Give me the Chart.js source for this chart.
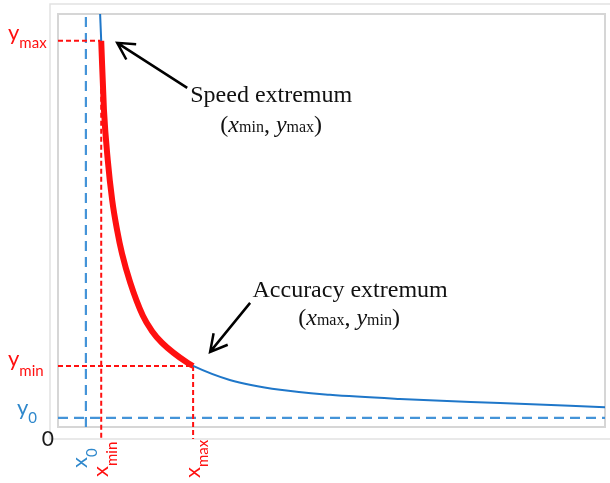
<!DOCTYPE html>
<html>
<head>
<meta charset="utf-8">
<script src="https://cdn.jsdelivr.net/npm/chart.js@4.4.1/dist/chart.umd.min.js"></script>
<style>
  html, body { margin: 0; padding: 0; background: #fff; }
  canvas { display: block; }
</style>
</head>
<body>
<canvas id="curveChart" width="610" height="483"></canvas>
<script>
// curve points (axis units 0..10 on both axes)
const curveX = [0.77, 0.79, 0.84, 0.91, 0.99, 1.08, 1.17, 1.32, 1.55, 1.72, 1.90, 2.36, 2.47, 3.14, 4.06, 4.97, 6.25, 8.08, 10.0];
const curveY = [10.0, 9.35, 7.68, 6.46, 5.50, 4.77, 4.20, 3.50, 2.70, 2.32, 2.04, 1.56, 1.48, 1.14, 0.90, 0.78, 0.68, 0.58, 0.48];
// red part of the curve goes from xmin to xmax
const redFrom = 1;
const redTo = 12;

const x0 = 0.51, y0 = 0.22;
const xMin = 0.79, yMax = 9.35;
const xMax = 2.47, yMin = 1.48;
const axisMin = 0, axisMax = 10;
const belowAxis = -0.29;

const yMarkText = [["y", "max"], ["y", "min"], ["y", "0"]];
const yMarkValues = [yMax, yMin, y0];
const xMarkText = [["x", "0"], ["x", "min"], ["x", "max"]];
const xMarkValues = [x0, xMin, xMax];
const originText = "0";

const noteSpeed = ["Speed extremum", "x", "min", "y", "max"];
const noteAccuracy = ["Accuracy extremum", "x", "max", "y", "min"];

const RED = "#ff1010";
const BLUE = "#1f77c9";
const BLUE_DASH = "#4494d8";
const BLUE_TEXT = "#2f88cc";

const pts = (xs, ys) => xs.map((x, i) => ({ x, y: ys[i] }));
const curve = pts(curveX, curveY);
const redCurve = curve.slice(redFrom, redTo + 1);

function seg(xa, ya, xb, yb) {
  return [{ x: xa, y: ya }, { x: xb, y: yb }];
}

function dashSet(data, color, dash, width) {
  return {
    data, borderColor: color, borderWidth: width, borderDash: dash,
    showLine: true, pointRadius: 0, fill: false, clip: false, order: 3
  };
}

// draws a list of [text, font, dy] pieces after each other
function drawPieces(ctx, pieces, x, y, align) {
  let total = 0;
  pieces.forEach(p => { ctx.font = p[1]; total += ctx.measureText(p[0]).width; });
  let cx = align === "center" ? x - total / 2 : (align === "right" ? x - total : x);
  ctx.textAlign = "left";
  ctx.textBaseline = "alphabetic";
  pieces.forEach(p => {
    ctx.font = p[1];
    ctx.fillText(p[0], cx, y + (p[2] || 0));
    cx += ctx.measureText(p[0]).width;
  });
}

function arrow(ctx, fx, fy, tx, ty) {
  const ang = Math.atan2(ty - fy, tx - fx);
  const len = 19, spread = 0.5;
  ctx.beginPath();
  ctx.moveTo(fx, fy);
  ctx.lineTo(tx, ty);
  ctx.moveTo(tx - len * Math.cos(ang - spread), ty - len * Math.sin(ang - spread));
  ctx.lineTo(tx, ty);
  ctx.lineTo(tx - len * Math.cos(ang + spread), ty - len * Math.sin(ang + spread));
  ctx.stroke();
}

const framePlugin = {
  id: "frames",
  beforeDraw(chart) {
    const { ctx, chartArea: a } = chart;
    ctx.save();
    // outer frame
    ctx.strokeStyle = "#e2e2e2";
    ctx.lineWidth = 1.5;
    ctx.beginPath();
    ctx.moveTo(chart.width, a.top - 10);
    ctx.lineTo(a.left - 8, a.top - 10);
    ctx.lineTo(a.left - 8, a.bottom + 12);
    ctx.lineTo(chart.width, a.bottom + 12);
    ctx.stroke();
    // plot frame
    ctx.strokeStyle = "#d6d6d6";
    ctx.lineWidth = 2;
    ctx.strokeRect(a.left, a.top, a.right - a.left, a.bottom - a.top);
    ctx.restore();
  }
};

const labelPlugin = {
  id: "labels",
  afterDraw(chart) {
    const { ctx, chartArea: a } = chart;
    const xs = chart.scales.x, ys = chart.scales.y;
    ctx.save();
    const big = "22px Lato", small = "15px Lato";

    // y marks on the left
    const yColors = [RED, RED, BLUE_TEXT];
    const yStart = [8, 8, 17];
    const yMainDy = [-1, 0, -3];
    const ySubDy = [7, 10, 5];
    yMarkText.forEach((t, i) => {
      const py = ys.getPixelForValue(yMarkValues[i]);
      ctx.fillStyle = yColors[i];
      drawPieces(ctx, [[t[0], big, yMainDy[i]], [t[1], small, ySubDy[i]]], yStart[i], py, "left");
    });

    // origin
    ctx.fillStyle = "#1a1a1a";
    ctx.font = "21px Lato";
    ctx.textAlign = "right";
    ctx.textBaseline = "alphabetic";
    ctx.fillText(originText, a.left - 4, a.bottom + 19);

    // x marks, rotated under the axis
    const xColors = [BLUE_TEXT, RED, RED];
    const xShift = [1, 7, 7];
    const xSubShift = [11, 16, 15];
    const xStartY = [468, 477, 478];
    xMarkText.forEach((t, i) => {
      const px = xs.getPixelForValue(xMarkValues[i]);
      ctx.save();
      ctx.translate(px, xStartY[i]);
      ctx.rotate(-Math.PI / 2);
      ctx.fillStyle = xColors[i];
      ctx.textAlign = "left";
      ctx.font = big;
      ctx.fillText(t[0], 0, xShift[i]);
      const w = ctx.measureText(t[0]).width;
      ctx.font = small;
      ctx.fillText(t[1], w, xSubShift[i]);
      ctx.restore();
    });

    // annotations
    const serif = "24px 'Liberation Serif'";
    const serifIt = "italic 24px 'Liberation Serif'";
    const serifSm = "16px 'Liberation Serif'";
    ctx.fillStyle = "#111";
    ctx.strokeStyle = "#000";
    ctx.lineWidth = 2.5;
    ctx.lineCap = "butt";

    const sx = xs.getPixelForValue(xMin), sy = ys.getPixelForValue(yMax);
    drawPieces(ctx, [[noteSpeed[0], serif]], sx + 170, sy + 61, "center");
    drawPieces(ctx, [["(", serif], [noteSpeed[1], serifIt], [noteSpeed[2], serifSm], [", ", serif],
      [noteSpeed[3], serifIt], [noteSpeed[4], serifSm], [")", serif]], sx + 170, sy + 91, "center");
    arrow(ctx, sx + 86, sy + 47, sx + 16, sy + 2);

    const qx = xs.getPixelForValue(xMax), qy = ys.getPixelForValue(yMin);
    drawPieces(ctx, [[noteAccuracy[0], serif]], qx + 157, qy - 69, "center");
    drawPieces(ctx, [["(", serif], [noteAccuracy[1], serifIt], [noteAccuracy[2], serifSm], [", ", serif],
      [noteAccuracy[3], serifIt], [noteAccuracy[4], serifSm], [")", serif]], qx + 156, qy - 41, "center");
    arrow(ctx, qx + 57, qy - 63, qx + 17, qy - 14);

    ctx.restore();
  }
};

new Chart(document.getElementById("curveChart"), {
  type: "scatter",
  data: {
    datasets: [
      {
        data: redCurve, borderColor: RED, borderWidth: 6, borderCapStyle: "butt",
        showLine: true, pointRadius: 0, cubicInterpolationMode: "monotone", order: 0
      },
      {
        data: curve, borderColor: BLUE, borderWidth: 2,
        showLine: true, pointRadius: 0, cubicInterpolationMode: "monotone", order: 1
      },
      dashSet(seg(0, yMax, xMin, yMax), RED, [5, 3], 2),
      dashSet(seg(xMin, yMax, xMin, belowAxis), RED, [5, 3], 2),
      dashSet(seg(0, yMin, xMax, yMin), RED, [5, 3], 2),
      dashSet(seg(xMax, yMin, xMax, belowAxis), RED, [5, 3], 2),
      dashSet(seg(x0, axisMin, x0, axisMax), BLUE_DASH, [10, 6], 2.2),
      dashSet(seg(axisMin, y0, axisMax, y0), BLUE_DASH, [10, 6], 2.2)
    ]
  },
  options: {
    responsive: false,
    animation: false,
    devicePixelRatio: 1,
    layout: { padding: { left: 58, top: 14, right: 5, bottom: 56 } },
    scales: {
      x: { type: "linear", min: axisMin, max: axisMax, display: false },
      y: { type: "linear", min: axisMin, max: axisMax, display: false }
    },
    plugins: {
      legend: { display: false },
      tooltip: { enabled: false }
    }
  },
  plugins: [framePlugin, labelPlugin]
});
</script>
</body>
</html>
